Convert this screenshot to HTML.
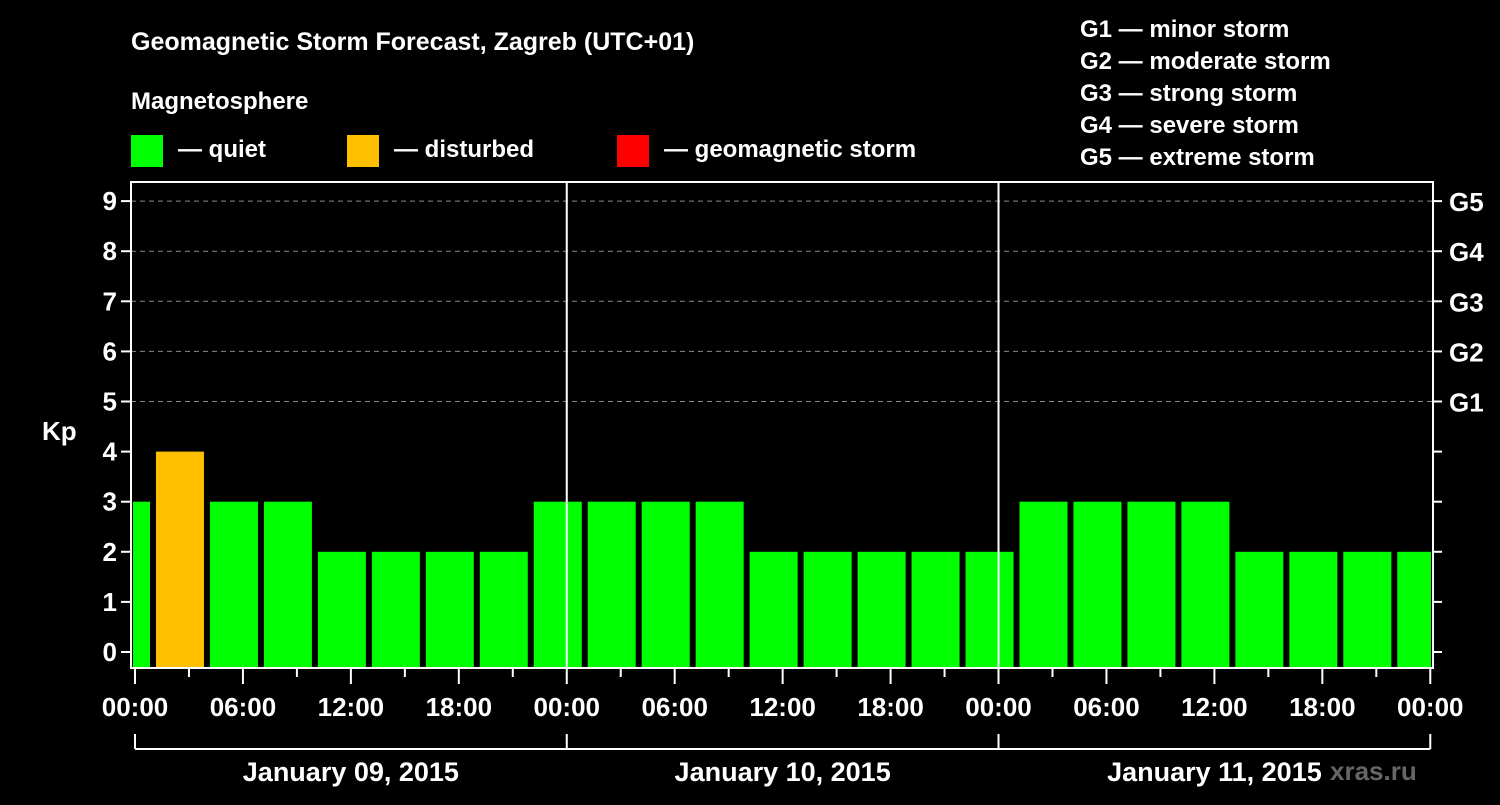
<!DOCTYPE html>
<html><head><meta charset="utf-8"><style>
body{margin:0;background:#000;}
svg text{font-family:"Liberation Sans",sans-serif;font-weight:bold;fill:#fff;}
</style></head><body>
<svg width="1500" height="800" viewBox="0 0 1500 800">
<rect width="1500" height="800" fill="#000"/>
<text x="131" y="50" font-size="25">Geomagnetic Storm Forecast, Zagreb (UTC+01)</text>
<text x="131" y="109" font-size="24">Magnetosphere</text>
<g><rect x="131" y="135" width="32" height="32" fill="#00ff00"/><text x="178" y="157" font-size="24">— quiet</text></g>
<g><rect x="347" y="135" width="32" height="32" fill="#ffc000"/><text x="394" y="157" font-size="24">— disturbed</text></g>
<g><rect x="617" y="135" width="32" height="32" fill="#ff0000"/><text x="664" y="157" font-size="24">— geomagnetic storm</text></g>
<g font-size="24">
<text x="1080" y="37">G1 — minor storm</text><text x="1080" y="69">G2 — moderate storm</text><text x="1080" y="101">G3 — strong storm</text><text x="1080" y="133">G4 — severe storm</text><text x="1080" y="165">G5 — extreme storm</text>
</g>
<text x="42" y="440" font-size="26">Kp</text>
<text x="1330" y="780" font-size="26" fill="#555" style="fill:#666">xras.ru</text>
<g id="plot"></g>
</svg>
<script>
const values=[3,4,3,3,2,2,2,2,3,3,3,3,2,2,2,2,2,3,3,3,3,2,2,2,2];
const yTicks=[0,1,2,3,4,5,6,7,8,9];
const gLabels=["G1","G2","G3","G4","G5"];
const xLabels=["00:00","06:00","12:00","18:00","00:00","06:00","12:00","18:00","00:00","06:00","12:00","18:00","00:00"];
const dayLabels=["January 09, 2015","January 10, 2015","January 11, 2015"];
const L=131,R=1433,T=182,B=668;
const x=h=>135+h*17.99;
const y=v=>652-v*50.1;
const NS="http://www.w3.org/2000/svg";
const g=document.getElementById('plot');
function mk(t,a,p){const e=document.createElementNS(NS,t);for(const k in a)e.setAttribute(k,a[k]);(p||g).appendChild(e);return e;}
const defs=mk('clipPath',{id:'cp'});mk('rect',{x:L+2,y:T,width:R-L-4,height:B-T},defs);
yTicks.forEach(v=>{if(v>=5){const l=mk('line',{x1:L,x2:R,y1:y(v),y2:y(v),stroke:'#888','stroke-dasharray':'5,4'});}});
const bars=mk('g',{'clip-path':'url(#cp)'});
values.forEach((v,i)=>{const c=-0.5+3*i;const col=v>=5?'#ff0000':v>=4?'#ffc000':'#00ff00';
const r=mk('rect',{x:x(c)-24,y:y(v),width:48,height:B-y(v),fill:col},bars);

});
[24,48].forEach(h=>{const l=mk('line',{x1:x(h),x2:x(h),y1:T,y2:B,stroke:'#fff','stroke-width':2});});
const fr=mk('rect',{x:L,y:T,width:R-L,height:B-T,fill:'none',stroke:'#fff','stroke-width':2});

yTicks.forEach(v=>{mk('line',{x1:L-10,x2:L,y1:y(v),y2:y(v),stroke:'#fff','stroke-width':2});mk('line',{x1:R,x2:R+9,y1:y(v),y2:y(v),stroke:'#fff','stroke-width':2});
const t=mk('text',{x:L-14,y:y(v)+9,'text-anchor':'end','font-size':26});t.textContent=v;
});
gLabels.forEach((s,i)=>{const t=mk('text',{x:R+16,y:y(5+i)+10,'font-size':26});t.textContent=s;
});
for(let h=0;h<=72;h+=3){const major=h%6===0;mk('line',{x1:x(h),x2:x(h),y1:B,y2:B+(major?16:9),stroke:'#fff','stroke-width':2});}
xLabels.forEach((s,i)=>{const t=mk('text',{x:x(i*6),y:716,'text-anchor':'middle','font-size':26});t.textContent=s;
});
mk('line',{x1:x(0),x2:x(72),y1:749,y2:749,stroke:'#fff','stroke-width':2});
[0,24,48,72].forEach(h=>mk('line',{x1:x(h),x2:x(h),y1:734,y2:749,stroke:'#fff','stroke-width':2}));
dayLabels.forEach((s,i)=>{const t=mk('text',{x:x(12+24*i),y:781,'text-anchor':'middle','font-size':27});t.textContent=s;
});
</script>
</body></html>
